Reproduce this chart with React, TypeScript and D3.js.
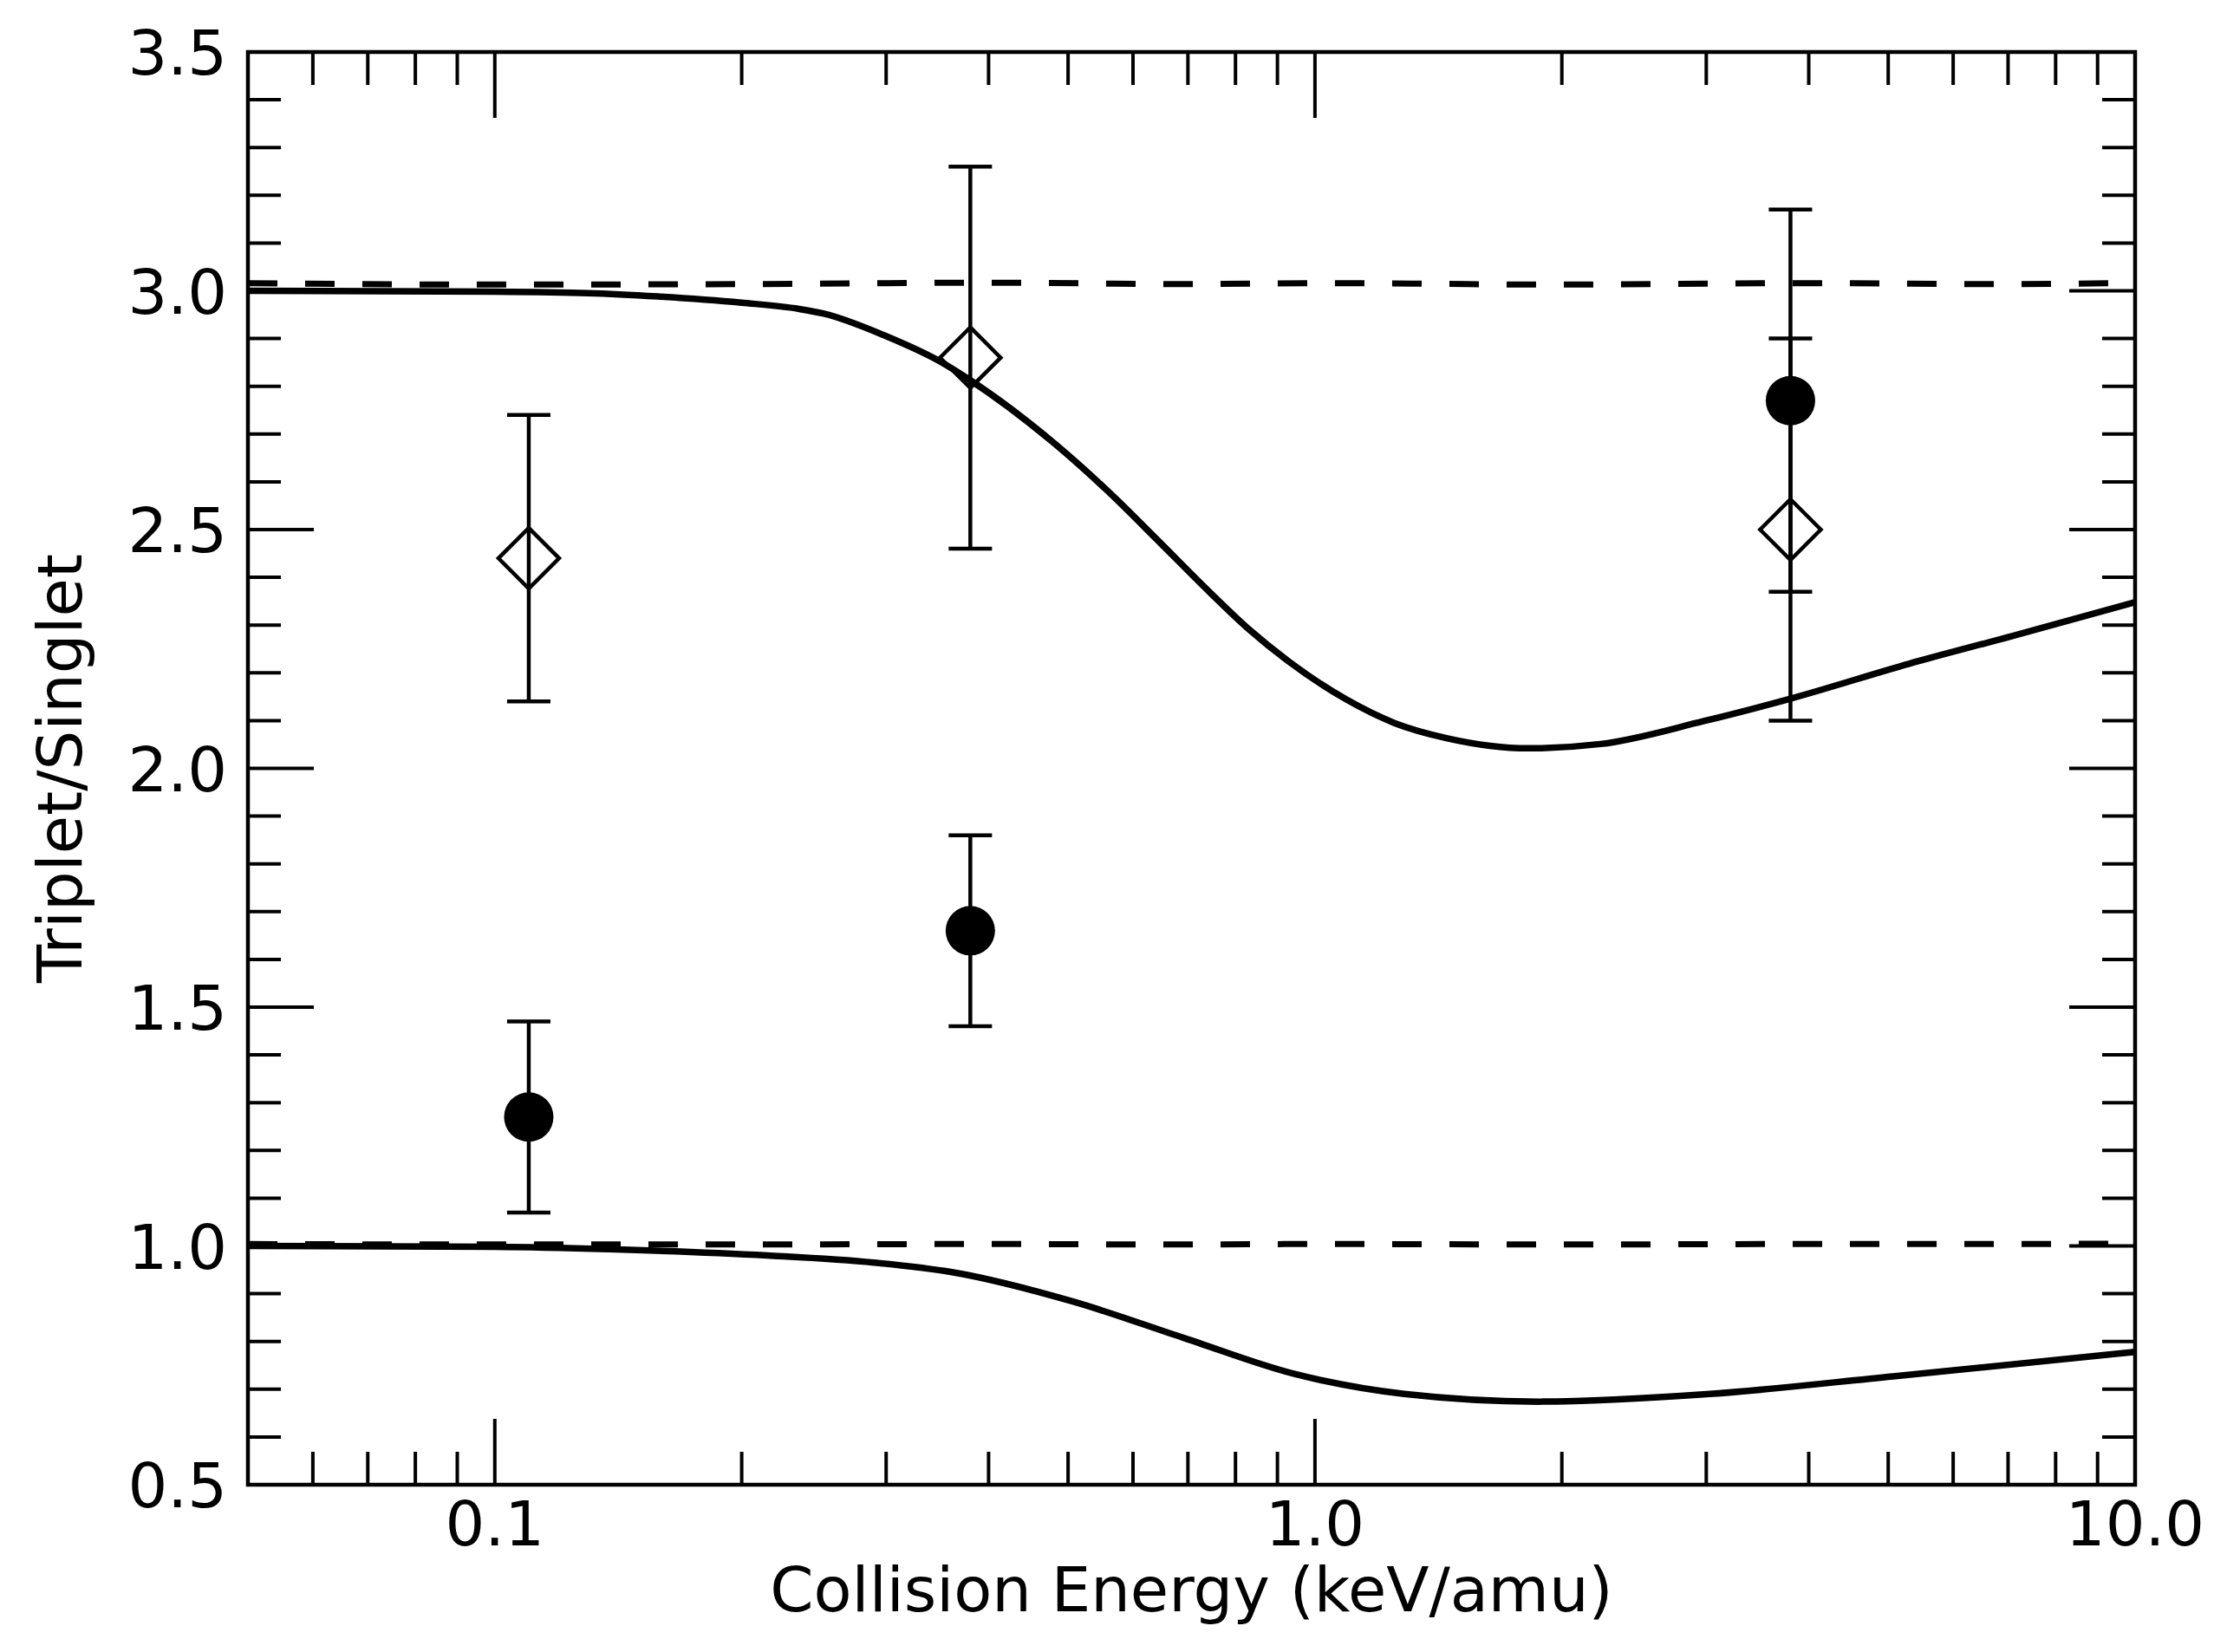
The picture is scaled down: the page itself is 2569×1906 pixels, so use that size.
import React from 'react'
import * as d3 from 'd3'

// collision energies (keV/amu) for the measured points
const pointEnergy = [0.11, 0.38, 3.8]

// filled circles
const circleValue = [1.27, 1.66, 2.77]
const circleLow = [1.07, 1.46, 2.37]
const circleHigh = [1.47, 1.86, 3.17]

// open diamonds
const diamondValue = [2.44, 2.86, 2.50]
const diamondLow = [2.14, 2.46, 2.10]
const diamondHigh = [2.74, 3.26, 2.90]

// upper solid curve
const upperEnergy = [0.05, 0.1, 0.13, 0.158, 0.2, 0.235, 0.252, 0.299, 0.349, 0.379, 0.483, 0.569, 0.641, 0.745, 0.831, 0.927, 1.09, 1.25, 1.45, 1.82, 2.23, 2.98, 3.8, 5.3, 7.08, 10]
const upperValue = [3.0, 2.998, 2.995, 2.988, 2.975, 2.962, 2.952, 2.906, 2.852, 2.814, 2.678, 2.568, 2.48, 2.368, 2.291, 2.225, 2.145, 2.095, 2.063, 2.042, 2.051, 2.099, 2.146, 2.219, 2.277, 2.348]

// lower solid curve
const lowerEnergy = [0.05, 0.1, 0.138, 0.215, 0.29, 0.361, 0.508, 0.693, 0.944, 1.285, 1.875, 3.03, 5.07, 10]
const lowerValue = [1.0, 0.998, 0.993, 0.98, 0.965, 0.945, 0.883, 0.807, 0.732, 0.69, 0.674, 0.69, 0.727, 0.778]

// dashed reference lines
const dashEnergy = [0.05, 0.1, 0.2, 0.4, 0.7, 1, 2, 4, 7, 10]
const dashUpper = [3.016, 3.013, 3.014, 3.017, 3.014, 3.016, 3.013, 3.016, 3.014, 3.017]
const dashLower = [1.004, 1.003, 1.003, 1.004, 1.003, 1.004, 1.003, 1.004, 1.004, 1.005]

const xMajor = [0.1, 1, 10]
const xMajorLabels = ['0.1', '1.0', '10.0']
const xMinor = [0.06, 0.07, 0.08, 0.09, 0.2, 0.3, 0.4, 0.5, 0.6, 0.7, 0.8, 0.9, 2, 3, 4, 5, 6, 7, 8, 9]
const yMajor = [0.5, 1.0, 1.5, 2.0, 2.5, 3.0, 3.5]
const yMinor = d3.range(6, 35).map(i => i / 10).filter(v => Math.round(v * 10) % 5 !== 0)

const W = 2569
const H = 1906
const left = 286
const right = 2463
const top = 60
const bottom = 1713
const font = "'DejaVu Sans', sans-serif"

const App = () => {
    const x = d3.scaleLog().domain([0.05, 10]).range([left, right])
    const y = d3.scaleLinear().domain([0.5, 3.5]).range([bottom, top])

    const line = d3.line<[number, number]>()
        .x(d => x(d[0]))
        .y(d => y(d[1]))
        .curve(d3.curveMonotoneX)

    const upperPath = line(upperEnergy.map((e, i) => [e, upperValue[i]]))
    const lowerPath = line(lowerEnergy.map((e, i) => [e, lowerValue[i]]))
    const dashUpperPath = line(dashEnergy.map((e, i) => [e, dashUpper[i]]))
    const dashLowerPath = line(dashEnergy.map((e, i) => [e, dashLower[i]]))

    const minorLen = 38
    const majorLen = 76
    const cap = 25

    const ErrorBar = ({ e, lo, hi }: { e: number, lo: number, hi: number }) => {
        const cx = x(e)
        return <g stroke="black" strokeWidth={4.5}>
            <line x1={cx} x2={cx} y1={y(lo)} y2={y(hi)} />
            <line x1={cx - cap} x2={cx + cap} y1={y(lo)} y2={y(lo)} />
            <line x1={cx - cap} x2={cx + cap} y1={y(hi)} y2={y(hi)} />
        </g>
    }

    return (
        <svg width={W} height={H} style={{ position: 'absolute', left: 0, top: 0, background: 'white' }}>
            <rect x={0} y={0} width={W} height={H} fill="white" />

            <path d={upperPath} fill="none" stroke="black" strokeWidth={7.5} />
            <path d={lowerPath} fill="none" stroke="black" strokeWidth={7.5} />
            <path d={dashUpperPath} fill="none" stroke="black" strokeWidth={7} strokeDasharray="34 32" />
            <path d={dashLowerPath} fill="none" stroke="black" strokeWidth={7} strokeDasharray="34 32" />

            {pointEnergy.map((e, i) => (
                <ErrorBar key={`ec-${i}`} e={e} lo={circleLow[i]} hi={circleHigh[i]} />
            ))}
            {pointEnergy.map((e, i) => (
                <ErrorBar key={`ed-${i}`} e={e} lo={diamondLow[i]} hi={diamondHigh[i]} />
            ))}
            {pointEnergy.map((e, i) => (
                <circle key={`c-${i}`} cx={x(e)} cy={y(circleValue[i])} r={28.5} fill="black" />
            ))}
            {pointEnergy.map((e, i) => {
                const cx = x(e)
                const cy = y(diamondValue[i])
                const s = 35
                return <path key={`d-${i}`}
                             d={`M${cx},${cy - s}L${cx + s},${cy}L${cx},${cy + s}L${cx - s},${cy}Z`}
                             fill="none" stroke="black" strokeWidth={4.5} />
            })}

            <g stroke="black" strokeWidth={4}>
                {xMinor.map(v => (
                    <g key={`xm-${v}`}>
                        <line x1={x(v)} x2={x(v)} y1={bottom} y2={bottom - minorLen} />
                        <line x1={x(v)} x2={x(v)} y1={top} y2={top + minorLen} />
                    </g>
                ))}
                {xMajor.map(v => (
                    <g key={`xM-${v}`}>
                        <line x1={x(v)} x2={x(v)} y1={bottom} y2={bottom - majorLen} />
                        <line x1={x(v)} x2={x(v)} y1={top} y2={top + majorLen} />
                    </g>
                ))}
                {yMinor.map(v => (
                    <g key={`ym-${v}`}>
                        <line x1={left} x2={left + minorLen} y1={y(v)} y2={y(v)} />
                        <line x1={right} x2={right - minorLen} y1={y(v)} y2={y(v)} />
                    </g>
                ))}
                {yMajor.map(v => (
                    <g key={`yM-${v}`}>
                        <line x1={left} x2={left + majorLen} y1={y(v)} y2={y(v)} />
                        <line x1={right} x2={right - majorLen} y1={y(v)} y2={y(v)} />
                    </g>
                ))}
            </g>
            <rect x={left} y={top} width={right - left} height={bottom - top} fill="none" stroke="black" strokeWidth={4.5} />

            <g fontFamily={font} fontSize={72} fill="black">
                {xMajor.map((v, i) => (
                    <text key={`xl-${v}`} x={x(v)} y={bottom + 70} textAnchor="middle">{xMajorLabels[i]}</text>
                ))}
                {yMajor.map(v => (
                    <text key={`yl-${v}`} x={left - 24} y={y(v) + 26} textAnchor="end">{v.toFixed(1)}</text>
                ))}
                <text x={(left + right) / 2} y={1859} textAnchor="middle">Collision Energy (keV/amu)</text>
                <text transform={`translate(94, ${(top + bottom) / 2}) rotate(-90)`} textAnchor="middle">Triplet/Singlet</text>
            </g>
        </svg>
    )
}

export default App
